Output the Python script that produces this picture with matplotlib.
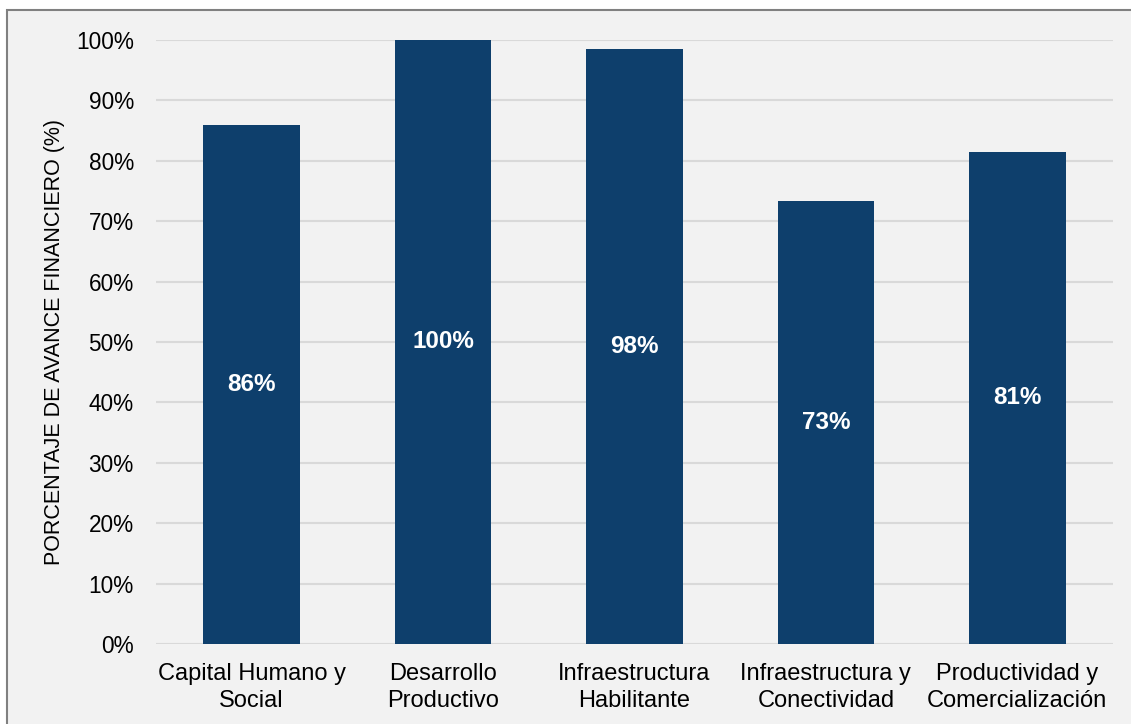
import matplotlib
matplotlib.use('Agg')
import matplotlib.pyplot as plt
from matplotlib.patches import Rectangle
from matplotlib.ticker import PercentFormatter

plt.rcParams['font.family'] = ['Liberation Sans', 'DejaVu Sans']

categories = ['Capital Humano y\nSocial', 'Desarrollo\nProductivo',
              'Infraestructura\nHabilitante', 'Infraestructura y\nConectividad',
              'Productividad y\nComercialización']
avance = [0.86, 1.00, 0.985, 0.733, 0.815]
etiquetas = ['86%', '100%', '98%', '73%', '81%']

W, H = 1131, 724
fig = plt.figure(figsize=(W / 100, H / 100), dpi=100, facecolor='white')
# marco gris del gráfico
fig.patches.append(Rectangle((7 / W, -0.1), 2, (H - 10) / H + 0.1,
                             transform=fig.transFigure, facecolor='#F2F2F2',
                             edgecolor='#808080', linewidth=1.5, zorder=-5))

ax = fig.add_axes([156 / W, 1 - 644 / H, (1113 - 156) / W, (644 - 40) / H])
ax.set_facecolor('none')

x = range(len(categories))
bars = ax.bar(x, avance, width=0.505, color='#0E3F6C', zorder=3)
for b, lab in zip(bars, etiquetas):
    ax.text(b.get_x() + b.get_width() / 2, b.get_height() / 2, lab,
            ha='center', va='center', color='white', fontsize=17.5,
            fontweight='bold', zorder=4)

ax.set_xlim(-0.5, len(categories) - 0.5)
ax.set_ylim(0, 1.0)
ax.set_yticks([i / 10 for i in range(11)])
ax.yaxis.set_major_formatter(PercentFormatter(1.0, decimals=0))
ax.set_xticks(list(x))
ax.set_xticklabels(categories, fontsize=17, linespacing=1.25)
ax.tick_params(axis='y', labelsize=16.3, length=0, pad=16)
ax.tick_params(axis='x', length=0, pad=14)
ax.grid(axis='y', color='#D9D9D9', linewidth=1.5, zorder=0)
ax.set_axisbelow(True)
for s in ax.spines.values():
    s.set_visible(False)

ax.set_ylabel('PORCENTAJE DE AVANCE FINANCIERO (%)', fontsize=15.5)
ax.yaxis.set_label_coords(-(156 - 55) / (1113 - 156), 0.5)
ax.yaxis.label.set_va('center')

fig.savefig('out.png', dpi=100, facecolor=fig.get_facecolor())
